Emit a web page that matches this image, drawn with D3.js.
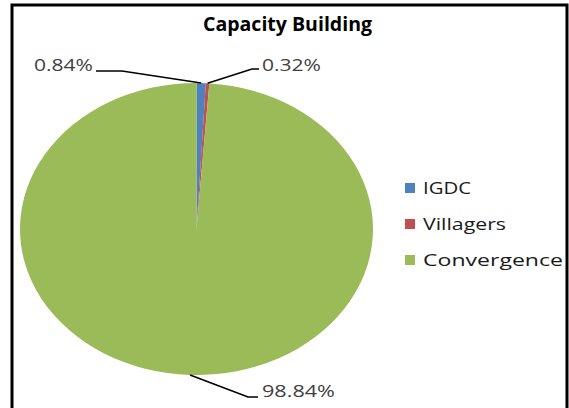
<!DOCTYPE html>
<html><head><meta charset="utf-8">
<script src="https://cdn.jsdelivr.net/npm/d3@7"></script>
<style>body{margin:0;background:#fff}svg{display:block}</style>
</head><body>
<script>
const categories = ["IGDC", "Villagers", "Convergence"];
const values = [0.84, 0.32, 98.84];
const valueLabels = ["0.84%", "0.32%", "98.84%"];
const colors = ["#4F81BD", "#C0504D", "#9BBB59"];
const title = "Capacity Building";

const W = 569, H = 408;
const svg = d3.select("body").append("svg").attr("width", W).attr("height", H);
svg.append("rect").attr("width", W).attr("height", H).attr("fill", "#fff");
// border
svg.append("path").attr("d", `M12,${H+5} V5 H567 V${H+5}`)
  .attr("fill", "none").attr("stroke", "#000").attr("stroke-width", 3);

const font = "'Open Sans', 'DejaVu Sans', sans-serif";
svg.append("text").attr("x", 287.5).attr("y", 31).attr("text-anchor", "middle")
  .attr("font-family", font).attr("font-weight", "bold").attr("font-size", 19)
  .attr("textLength", 169).attr("lengthAdjust", "spacingAndGlyphs")
  .attr("fill", "#000").text(title);

const cx = 196.5, cy = 229, rx = 176.5, ry = 146;
const data = categories.map((c, i) => ({ c, v: values[i], label: valueLabels[i], color: colors[i] }));
const pie = d3.pie().sort(null).value(d => d.v);
const arcs = pie(data);
const arc = d3.arc().innerRadius(0).outerRadius(ry);

const g = svg.append("g").attr("transform", `translate(${cx},${cy}) scale(${rx/ry},1)`);
g.selectAll("path").data(arcs).join("path")
  .attr("d", arc).attr("fill", d => d.data.color);

const edge = a => {
  const m = (a.startAngle + a.endAngle) / 2;
  return [cx + rx * Math.sin(m), cy - ry * Math.cos(m)];
};
const labelLayout = [
  { elbow: [122, 71], end: [96, 71], tx: 93, ty: 71, anchor: "end", len: 59 },
  { elbow: [252, 69], end: [259, 69], tx: 262, ty: 71, anchor: "start", len: 59 },
  { elbow: [248, 397], end: [258, 397], tx: 262, ty: 397, anchor: "start", len: 73 }
];
arcs.forEach((a, i) => {
  const p = edge(a), L = labelLayout[i];
  svg.append("polyline")
    .attr("points", [p, L.elbow, L.end].map(q => q.join(",")).join(" "))
    .attr("fill", "none").attr("stroke", "#000").attr("stroke-width", 1.6);
  svg.append("text").attr("x", L.tx).attr("y", L.ty).attr("text-anchor", L.anchor)
    .attr("font-family", font).attr("font-size", 17).attr("fill", "#404040")
    .attr("textLength", L.len).attr("lengthAdjust", "spacingAndGlyphs")
    .text(a.data.label);
});

// legend
const legendLens = [48, 83, 140];
const lg = svg.append("g");
const ly = d3.scalePoint().domain(categories).range([188, 260]);
categories.forEach((c, i) => {
  lg.append("rect").attr("x", 405).attr("y", ly(c) - 5).attr("width", 10).attr("height", 10)
    .attr("fill", colors[i]);
  lg.append("text").attr("x", 423).attr("y", ly(c) + 6)
    .attr("font-family", font).attr("font-size", 17).attr("fill", "#1a1a1a")
    .attr("textLength", legendLens[i]).attr("lengthAdjust", "spacingAndGlyphs")
    .text(c);
});
</script>
</body></html>
